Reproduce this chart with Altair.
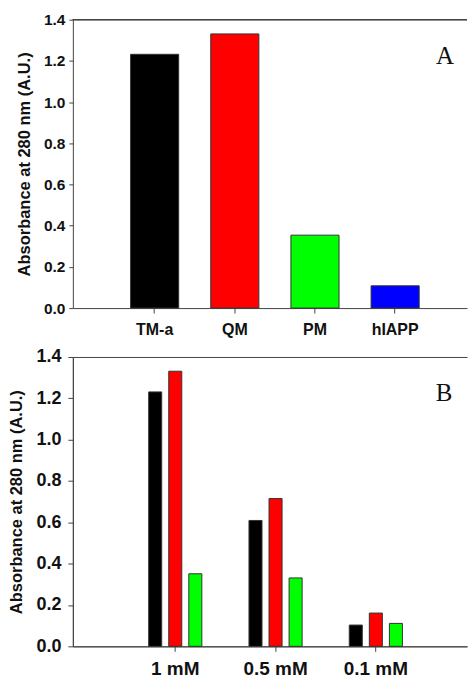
import altair as alt
import pandas as pd

# Panel A data
samples = ["TM-a", "QM", "PM", "hIAPP"]
abs_a = [1.232, 1.331, 0.354, 0.108]
colors = ["#000000", "#ff0000", "#00ff00", "#0000ff"]

# Panel B data
conc = ["1 mM", "0.5 mM", "0.1 mM"]
series_b = ["TM-a", "QM", "PM"]
b_tma = [1.231, 0.609, 0.103]
b_qm = [1.331, 0.715, 0.161]
b_pm = [0.351, 0.331, 0.111]

y_ticks = [0.0, 0.2, 0.4, 0.6, 0.8, 1.0, 1.2, 1.4]
y_title = "Absorbance at 280 nm (A.U.)"
y_max = 1.4

dfA = pd.DataFrame({"sample": samples, "abs": abs_a})
rows = []
for s, vals in zip(series_b, [b_tma, b_qm, b_pm]):
    for c, v in zip(conc, vals):
        rows.append({"key": c + "|" + s, "conc": c, "series": s, "abs": v})
dfB = pd.DataFrame(rows)

# band slots: empty slots either side of each group of three bars
slots = ["lead|1", "lead|2"]
for c in conc:
    slots += [c + "|gap1"] + [c + "|" + s for s in series_b] + [c + "|gap2"]
slots += ["trail|1", "trail|2"]
tick_slots = [c + "|QM" for c in conc]

AX = "#444444"
FONT = "Liberation Sans"

def yaxis(label_size, tick, lpad, tpad):
    return alt.Axis(values=y_ticks, format=".1f", title=y_title, grid=False,
                    labelFont=FONT, labelFontWeight="bold", labelFontSize=label_size,
                    labelColor="#111111", titleFont=FONT, titleFontWeight="bold",
                    titleFontSize=16.5, titleColor="#111111", titlePadding=tpad,
                    tickSize=tick, labelPadding=lpad, domainColor=AX, tickColor=AX)

def xaxis(label_size, **kw):
    return alt.Axis(title=None, labelAngle=0, labelFont=FONT, labelFontWeight="bold",
                    labelFontSize=label_size, labelColor="#111111", tickSize=5,
                    labelPadding=8, domainColor=AX, tickColor=AX, **kw)

W = 395
HA = 289
HB = 290
yscale = alt.Scale(domain=[0, y_max], nice=False)

barsA = alt.Chart(dfA).mark_bar(stroke="#333333", strokeWidth=1).encode(
    x=alt.X("sample:N", sort=samples,
            scale=alt.Scale(paddingInner=0.4, paddingOuter=0.6585, align=0.547),
            axis=xaxis(16)),
    y=alt.Y("abs:Q", scale=yscale, axis=yaxis(15.5, 4, 4, 11)),
    color=alt.Color("sample:N", scale=alt.Scale(domain=samples, range=colors), legend=None),
)
topA = alt.Chart(dfA).mark_rule(color=AX, strokeWidth=1).encode(
    y=alt.datum(y_max), x=alt.value(0), x2=alt.value(W))
textA = alt.Chart(pd.DataFrame({"t": ["A"]})).mark_text(
    font="Liberation Serif", fontSize=25, align="center", baseline="alphabetic", color="#111111"
).encode(text="t:N", x=alt.value(373), y=alt.value(44))
panelA = alt.layer(barsA, topA, textA).properties(width=W, height=HA)

barsB = alt.Chart(dfB).mark_bar(stroke="#333333", strokeWidth=1).encode(
    x=alt.X("key:N",
            scale=alt.Scale(domain=slots, paddingInner=0.35, paddingOuter=0.5, align=0.78),
            axis=xaxis(19, values=tick_slots, labelExpr="split(datum.label, '|')[0]")),
    y=alt.Y("abs:Q", scale=yscale, axis=yaxis(18, 5, 7, 11)),
    color=alt.Color("series:N", scale=alt.Scale(domain=samples, range=colors), legend=None),
)
textB = alt.Chart(pd.DataFrame({"t": ["B"]})).mark_text(
    font="Liberation Serif", fontSize=25, align="center", baseline="alphabetic", color="#111111"
).encode(text="t:N", x=alt.value(372), y=alt.value(44))
# top frame line of panel B: the view outline, dashed so that only the top edge
# (plus the bottom/left edges hidden under the axes) is stroked, not the right edge
panelB = alt.layer(barsB, textB).properties(
    width=W, height=HB,
    view=alt.ViewBackground(stroke=AX, strokeWidth=1, strokeDash=[W, HB, W + HB, 1]),
)

chart = alt.vconcat(panelA, panelB, spacing=10).properties(
    padding={"left": 0, "top": 4, "right": 0, "bottom": 0}
).configure_view(stroke=None).resolve_scale(color="independent")

chart.save("out.html", embed_options={"renderer": "svg", "actions": False})
